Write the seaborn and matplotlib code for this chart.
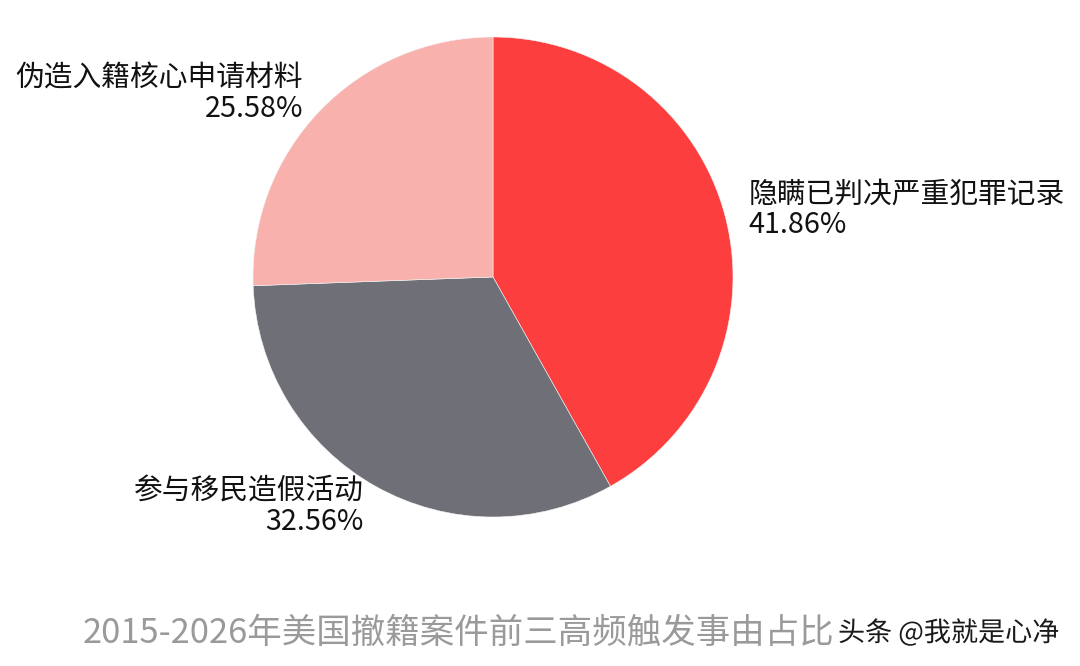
import matplotlib
matplotlib.use("Agg")
import matplotlib.pyplot as plt
import matplotlib.patheffects as pe
import seaborn as sns

sns.set_theme(style="white")
plt.rcParams['font.family'] = ['Noto Sans CJK SC', 'DejaVu Sans']

categories = ["隐瞒已判决严重犯罪记录", "参与移民造假活动", "伪造入籍核心申请材料"]
values = [41.86, 32.56, 25.58]
colors = ["#FC3F3E", "#6E6F77", "#F9B1AD"]
title = "2015-2026年美国撤籍案件前三高频触发事由占比"
watermark = "头条 @我就是心净"

labels = [f"{c}\n{v:.2f}%" for c, v in zip(categories, values)]

fig = plt.figure(figsize=(10.8, 6.66), dpi=100)
fig.patch.set_facecolor("white")
ax = fig.add_axes([253 / 1080, (666 - 517) / 666, 480 / 1080, 480 / 666])
wedges, texts = ax.pie(values, labels=labels, colors=colors, startangle=90,
                       counterclock=False, labeldistance=1.1,
                       wedgeprops=dict(linewidth=0.4, edgecolor="#f4f4f4"),
                       textprops=dict(fontsize=20.7, color="#111111", linespacing=1.02))
ax.set_xlim(-1, 1)
ax.set_ylim(-1, 1)
ax.set_aspect("equal")
ax.axis("off")

fig.text(459 / 1080, 1 - 633 / 666, title, ha="center", va="center",
         fontsize=24.8, color="#9A9A9A", fontweight="light")
fig.text(838 / 1080, 1 - 633 / 666, watermark, ha="left", va="center",
         fontsize=19.5, color="#1a1a1a", fontweight="medium",
         path_effects=[pe.withStroke(linewidth=3, foreground="white")])

fig.savefig("out.png", dpi=100, facecolor="white")
